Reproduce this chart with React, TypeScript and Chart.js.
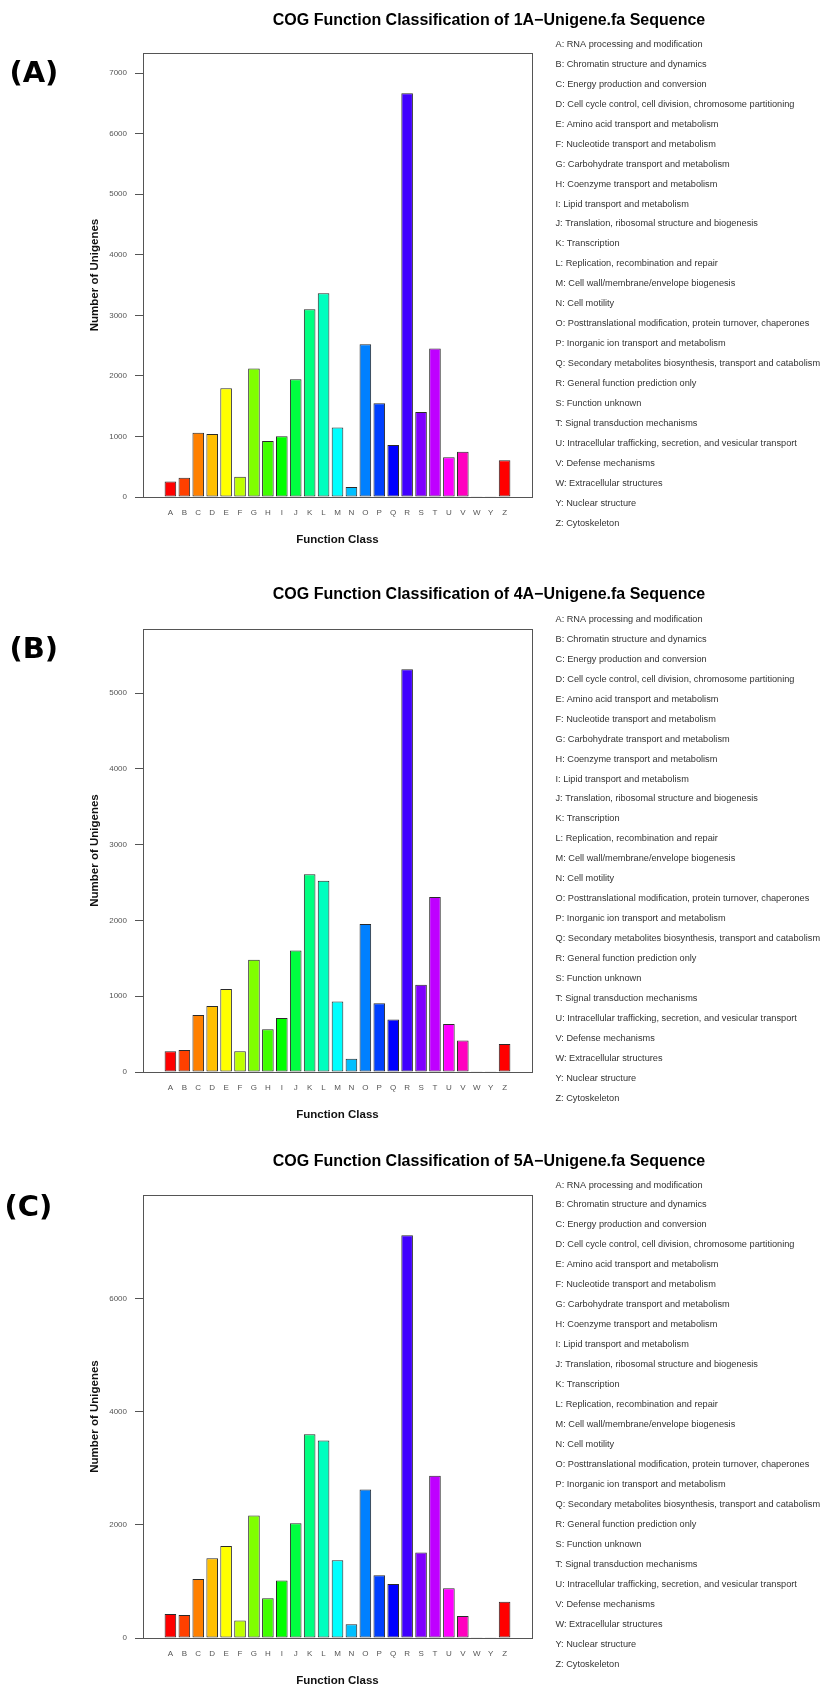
import React, { useEffect, useRef } from "react";
import { Chart, registerables } from "chart.js";

Chart.register(...registerables);

// COG functional categories (no X class in this scheme)
const classCodes = ["A", "B", "C", "D", "E", "F", "G", "H", "I", "J", "K", "L", "M", "N", "O", "P", "Q", "R", "S", "T", "U", "V", "W", "Y", "Z"];

const classNames = [
  "RNA processing and modification",
  "Chromatin structure and dynamics",
  "Energy production and conversion",
  "Cell cycle control, cell division, chromosome partitioning",
  "Amino acid transport and metabolism",
  "Nucleotide transport and metabolism",
  "Carbohydrate transport and metabolism",
  "Coenzyme transport and metabolism",
  "Lipid transport and metabolism",
  "Translation, ribosomal structure and biogenesis",
  "Transcription",
  "Replication, recombination and repair",
  "Cell wall/membrane/envelope biogenesis",
  "Cell motility",
  "Posttranslational modification, protein turnover, chaperones",
  "Inorganic ion transport and metabolism",
  "Secondary metabolites biosynthesis, transport and catabolism",
  "General function prediction only",
  "Function unknown",
  "Signal transduction mechanisms",
  "Intracellular trafficking, secretion, and vesicular transport",
  "Defense mechanisms",
  "Extracellular structures",
  "Nuclear structure",
  "Cytoskeleton",
];

// rainbow palette, one hue step per class, wrapping back to red at Z
const barColors = [
  "#FF0000", "#FF4000", "#FF8000", "#FFBF00", "#FFFF00", "#BFFF00", "#80FF00", "#40FF00",
  "#00FF00", "#00FF40", "#00FF80", "#00FFBF", "#00FFFF", "#00BFFF", "#0080FF", "#0040FF",
  "#0000FF", "#4000FF", "#8000FF", "#BF00FF", "#FF00FF", "#FF00BF", "#FF0080", "#FF0040", "#FF0000",
];

// Unigene counts per class for each assembly
const counts1A = [258, 319, 1063, 1041, 1795, 336, 2121, 925, 1002, 1944, 3102, 3366, 1146, 165, 2523, 1548, 860, 6666, 1405, 2452, 655, 749, 12, 3, 605];
const counts4A = [274, 292, 753, 872, 1096, 274, 1482, 564, 714, 1605, 2611, 2523, 929, 174, 1953, 907, 692, 5316, 1153, 2310, 632, 416, 10, 2, 369];
const counts5A = [425, 407, 1043, 1409, 1627, 308, 2164, 702, 1015, 2028, 3602, 3491, 1374, 242, 2624, 1109, 955, 7121, 1510, 2870, 880, 390, 12, 3, 640];

const sampleNames = ["1A", "4A", "5A"];
const panelTags = ["(A)", "(B)", "(C)"];
const yTickSteps = [1000, 1000, 2000];

const FONT = '"Liberation Sans", Arial, Helvetica, sans-serif';

// barplot geometry: bar width 1, spacing 0.2, axis range padded by 4%
const SLOT = 1.2;
const BAR_W = 1;
const SPACE = 0.2;
const barCenter = (i: number) => SPACE + BAR_W / 2 + i * SLOT;
const xFrom = SPACE;
const xTo = classCodes.length * SLOT;
const xPad = (xTo - xFrom) * 0.04;

// per-panel canvas placement (page pixels)
const panelLayout = [
  { top: 0, height: 565, titleY: 20.7, boxTop: 53, base: 497, legendY: 44.3, tagX: 9.4, tagY: 82.2 },
  { top: 565, height: 565, titleY: 30, boxTop: 64, base: 507, legendY: 54.3, tagX: 9.4, tagY: 92.9 },
  { top: 1130, height: 555, titleY: 31.7, boxTop: 65, base: 508, legendY: 55, tagX: 4.4, tagY: 86.2 },
];

const PLOT_LEFT = 143;
const PLOT_RIGHT = 532;
const CANVAS_W = 821;

// draws the frame, main title, class legend and panel tag
const figureText = {
  id: "figureText",
  afterDraw(chart: any, _args: any, o: any) {
    const { ctx, chartArea: ca } = chart;
    ctx.save();
    ctx.strokeStyle = "#555";
    ctx.lineWidth = 1;
    const l = Math.round(ca.left) + 0.5;
    const t = Math.round(ca.top) + 0.5;
    const r = Math.round(ca.right) + 0.5;
    const b = Math.round(ca.bottom) + 0.5;
    ctx.strokeRect(l, t, r - l, b - t);

    ctx.fillStyle = "#000";
    ctx.font = `bold 16px ${FONT}`;
    ctx.textAlign = "center";
    ctx.textBaseline = "middle";
    ctx.fillText(o.title, 489, o.titleY);

    ctx.font = `9.2px ${FONT}`;
    ctx.fillStyle = "#333";
    ctx.textAlign = "left";
    classCodes.forEach((c, i) => {
      ctx.fillText(`${c}: ${classNames[i]}`, 555.5, o.legendY + i * 19.96);
    });

    ctx.font = `bold 29px "DejaVu Sans", ${FONT}`;
    ctx.fillStyle = "#000";
    ctx.textBaseline = "alphabetic";
    ctx.fillText(o.tag, o.tagX, o.tagY);
    ctx.restore();
  },
};

function Panel({ idx, values }: { idx: number; values: number[] }) {
  const ref = useRef<HTMLCanvasElement | null>(null);
  const lay = panelLayout[idx];

  useEffect(() => {
    const canvas = ref.current;
    if (!canvas) return;
    const xAxisH = lay.height - lay.base;
    const titleLH = 11.5 * 1.2;
    const yMax = Math.max(...values) * 1.1;
    const step = yTickSteps[idx];

    const chart = new Chart(canvas, {
      type: "bar",
      data: {
        datasets: [
          {
            data: values.map((v, i) => ({ x: barCenter(i), y: v })),
            backgroundColor: barColors,
            borderColor: "#2a2a2a",
            borderWidth: 1,
            borderSkipped: false,
            barPercentage: BAR_W / SLOT,
            categoryPercentage: 1,
          },
        ],
      },
      options: {
        responsive: false,
        animation: false,
        devicePixelRatio: 1,
        events: [],
        layout: {
          padding: { left: 0, right: CANVAS_W - PLOT_RIGHT, top: lay.boxTop, bottom: 0 },
        },
        plugins: {
          legend: { display: false },
          title: { display: false },
          tooltip: { enabled: false },
          figureText: {
            title: `COG Function Classification of ${sampleNames[idx]}\u2212Unigene.fa Sequence`,
            titleY: lay.titleY,
            legendY: lay.legendY,
            tag: panelTags[idx],
            tagX: lay.tagX,
            tagY: lay.tagY,
          },
        } as any,
        scales: {
          x: {
            type: "linear",
            min: xFrom - xPad,
            max: xTo + xPad,
            afterBuildTicks: (s: any) => {
              s.ticks = classCodes.map((_, i) => ({ value: barCenter(i) }));
            },
            afterFit: (s: any) => {
              s.height = xAxisH;
            },
            grid: { display: false, drawTicks: false },
            border: { display: false },
            ticks: {
              autoSkip: false,
              maxRotation: 0,
              minRotation: 0,
              padding: 11,
              color: "#555",
              font: { family: FONT, size: 8 },
              callback: (v: any) => classCodes[Math.round((Number(v) - barCenter(0)) / SLOT)] ?? "",
            },
            title: {
              display: true,
              text: "Function Class",
              color: "#111",
              font: { family: FONT, size: 11.5, weight: "bold" },
              padding: { top: 0, bottom: xAxisH - 42.5 - titleLH / 2 },
            },
          },
          y: {
            min: 0,
            max: yMax,
            afterBuildTicks: (s: any) => {
              const t: { value: number }[] = [];
              for (let v = 0; v <= yMax; v += step) t.push({ value: v });
              s.ticks = t;
            },
            afterFit: (s: any) => {
              s.width = PLOT_LEFT;
            },
            grid: { display: true, drawOnChartArea: false, drawTicks: true, tickLength: 8, color: "#555" },
            border: { display: false },
            ticks: {
              padding: 8,
              color: "#555",
              font: { family: FONT, size: 8 },
              callback: (v: any) => String(v),
            },
            title: {
              display: true,
              text: "Number of Unigenes",
              color: "#111",
              font: { family: FONT, size: 11.5, weight: "bold" },
              padding: { top: 95 - titleLH / 2, bottom: 0 },
            },
          },
        },
      } as any,
      plugins: [figureText],
    });
    return () => chart.destroy();
  }, [idx, values]);

  return (
    <canvas
      ref={ref}
      width={CANVAS_W}
      height={lay.height}
      style={{ position: "absolute", left: 0, top: lay.top, width: CANVAS_W, height: lay.height, display: "block" }}
    />
  );
}

const panelValues = [counts1A, counts4A, counts5A];

export default function App() {
  return (
    <div style={{ position: "absolute", left: 0, top: 0, width: CANVAS_W, height: 1685, background: "#fff", overflow: "hidden" }}>
      {panelValues.map((vals, i) => (
        <Panel key={sampleNames[i]} idx={i} values={vals} />
      ))}
    </div>
  );
}
